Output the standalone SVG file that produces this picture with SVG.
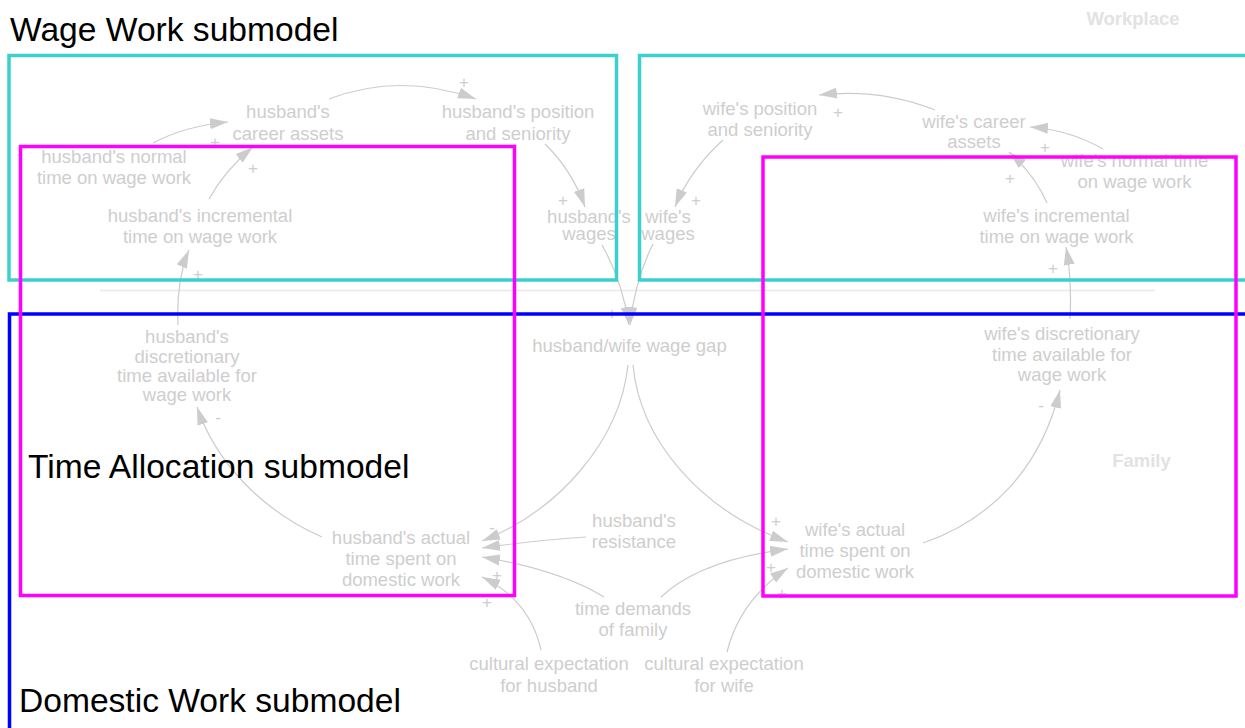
<svg xmlns="http://www.w3.org/2000/svg" width="1245" height="728" viewBox="0 0 1245 728">
<style>
.n{font-family:"Liberation Sans",Arial,sans-serif;font-size:18.5px;fill:#cecece;text-anchor:middle}
.s{font-family:"Liberation Sans",Arial,sans-serif;font-size:17px;fill:#cecece;text-anchor:middle}
.t{font-family:"Liberation Sans",Arial,sans-serif;font-size:33.6px;fill:#000000}
.sec{font-family:"Liberation Sans",Arial,sans-serif;font-size:18.5px;font-weight:bold;fill:#e2e2e2;text-anchor:middle}
.c{fill:none;stroke:#cccccc;stroke-width:1.2;marker-end:url(#ah)}
.box{fill:none;stroke-width:3.5}
</style>
<defs>
<marker id="ah" markerUnits="userSpaceOnUse" markerWidth="20" markerHeight="14" refX="18" refY="6" orient="auto">
<path d="M0,0.5 L18,6 L0,11.5 Z" fill="#cccccc"/>
</marker>
</defs>
<rect width="1245" height="728" fill="#ffffff"/>
<line x1="100" y1="290.5" x2="1155" y2="290.5" stroke="#e8e8e8" stroke-width="1.5"/>
<g id="connectors">
<path class="c" d="M153,143 Q185,126 228,122"/>
<path class="c" d="M209,199 Q225,170 253,147"/>
<path class="c" d="M329,99 Q400,72 476,99"/>
<path class="c" d="M545,144 Q572,170 585,207"/>
<path class="c" d="M602,245 Q622,280 629,325"/>
<path class="c" d="M653,244 Q635,280 630,325"/>
<path class="c" d="M178,325 Q176,280 189,250"/>
<path class="c" d="M322,537 C260,510 215,460 197,407"/>
<path class="c" d="M628,365 C620,440 560,510 482,541"/>
<path class="c" d="M586,537 Q530,541 482,548"/>
<path class="c" d="M604,597 Q560,570 482,557"/>
<path class="c" d="M541,650 Q530,600 482,577"/>
<path class="c" d="M633,365 C640,440 700,510 788,542"/>
<path class="c" d="M661,597 Q700,560 788,549"/>
<path class="c" d="M727,652 Q740,600 788,568"/>
<path class="c" d="M923,543 C990,520 1040,470 1060,390"/>
<path class="c" d="M1070,319 Q1072,280 1066,247"/>
<path class="c" d="M1047,203 Q1035,175 1009,152"/>
<path class="c" d="M1103,149 Q1070,130 1030,127"/>
<path class="c" d="M935,110 Q880,88 819,95"/>
<path class="c" d="M723,140 Q690,170 675,207"/>
</g>
<g id="polarities">
<text class="s" x="215" y="148">+</text>
<text class="s" x="253" y="174">+</text>
<text class="s" x="198" y="280">+</text>
<text class="s" x="464" y="88">+</text>
<text class="s" x="563" y="206">+</text>
<text class="s" x="838" y="118">+</text>
<text class="s" x="1045" y="153">+</text>
<text class="s" x="1010" y="184">+</text>
<text class="s" x="696" y="206">+</text>
<text class="s" x="1053" y="274">+</text>
<text class="s" x="612" y="319">+</text>
<text class="s" x="648" y="319">-</text>
<text class="s" x="218" y="423">-</text>
<text class="s" x="1041" y="411">-</text>
<text class="s" x="492" y="533">-</text>
<text class="s" x="496" y="539">-</text>
<text class="s" x="497" y="581">+</text>
<text class="s" x="487" y="608">+</text>
<text class="s" x="776" y="527">+</text>
<text class="s" x="771" y="573">+</text>
<text class="s" x="782" y="599">+</text>
</g>
<g id="husband-career-assets"><text class="n" x="288" y="118">husband's</text><text class="n" x="288" y="140">career assets</text></g>
<g id="husband-position"><text class="n" x="518" y="118">husband's position</text><text class="n" x="518" y="140">and seniority</text></g>
<g id="husband-normal-time"><text class="n" x="114" y="163">husband's normal</text><text class="n" x="114" y="184">time on wage work</text></g>
<g id="husband-incremental"><text class="n" x="200" y="222">husband's incremental</text><text class="n" x="200" y="243">time on wage work</text></g>
<g id="husband-wages"><text class="n" x="589" y="223">husband's</text><text class="n" x="589" y="240">wages</text></g>
<g id="wife-wages"><text class="n" x="668" y="223">wife's</text><text class="n" x="668" y="240">wages</text></g>
<g id="wife-position"><text class="n" x="760" y="115">wife's position</text><text class="n" x="760" y="136">and seniority</text></g>
<g id="wife-career-assets"><text class="n" x="974" y="128">wife's career</text><text class="n" x="974" y="148">assets</text></g>
<g id="wife-normal-time"><text class="n" x="1134.5" y="167">wife's normal time</text><text class="n" x="1134.5" y="188">on wage work</text></g>
<g id="wife-incremental"><text class="n" x="1056.5" y="222">wife's incremental</text><text class="n" x="1056.5" y="243">time on wage work</text></g>
<g id="husband-discretionary"><text class="n" x="187" y="343">husband's</text><text class="n" x="187" y="363">discretionary</text><text class="n" x="187" y="382">time available for</text><text class="n" x="187" y="401">wage work</text></g>
<g id="wife-discretionary"><text class="n" x="1062" y="340">wife's discretionary</text><text class="n" x="1062" y="361">time available for</text><text class="n" x="1062" y="381">wage work</text></g>
<g id="wage-gap"><text class="n" x="629.5" y="352">husband/wife wage gap</text></g>
<g id="husband-actual"><text class="n" x="401" y="544">husband's actual</text><text class="n" x="401" y="565">time spent on</text><text class="n" x="401" y="586">domestic work</text></g>
<g id="wife-actual"><text class="n" x="855" y="536">wife's actual</text><text class="n" x="855" y="557">time spent on</text><text class="n" x="855" y="578">domestic work</text></g>
<g id="husband-resistance"><text class="n" x="634" y="527">husband's</text><text class="n" x="634" y="548">resistance</text></g>
<g id="time-demands"><text class="n" x="633" y="615">time demands</text><text class="n" x="633" y="636">of family</text></g>
<g id="cultural-husband"><text class="n" x="549" y="670">cultural expectation</text><text class="n" x="549" y="692">for husband</text></g>
<g id="cultural-wife"><text class="n" x="724" y="670">cultural expectation</text><text class="n" x="724" y="692">for wife</text></g>
<g id="sectors">
<text class="sec" x="1133" y="25">Workplace</text>
<text class="sec" x="1141.5" y="467">Family</text>
</g>
<g id="submodel-boxes">
<rect class="box" x="9" y="55.5" width="607.5" height="224.5" stroke="#3ccfcf"/>
<rect class="box" x="639.5" y="55.5" width="620" height="224.5" stroke="#3ccfcf"/>
<rect class="box" x="9.5" y="314" width="1250" height="500" stroke="#0000ff"/>
<rect class="box" x="20.5" y="146.5" width="494" height="449" stroke="#ff00ff"/>
<rect class="box" x="763" y="157" width="473" height="439" stroke="#ff00ff"/>
</g>
<g id="titles">
<text class="t" x="10" y="41">Wage Work submodel</text>
<text class="t" x="28" y="478">Time Allocation submodel</text>
<text class="t" x="19" y="712">Domestic Work submodel</text>
</g>
</svg>
